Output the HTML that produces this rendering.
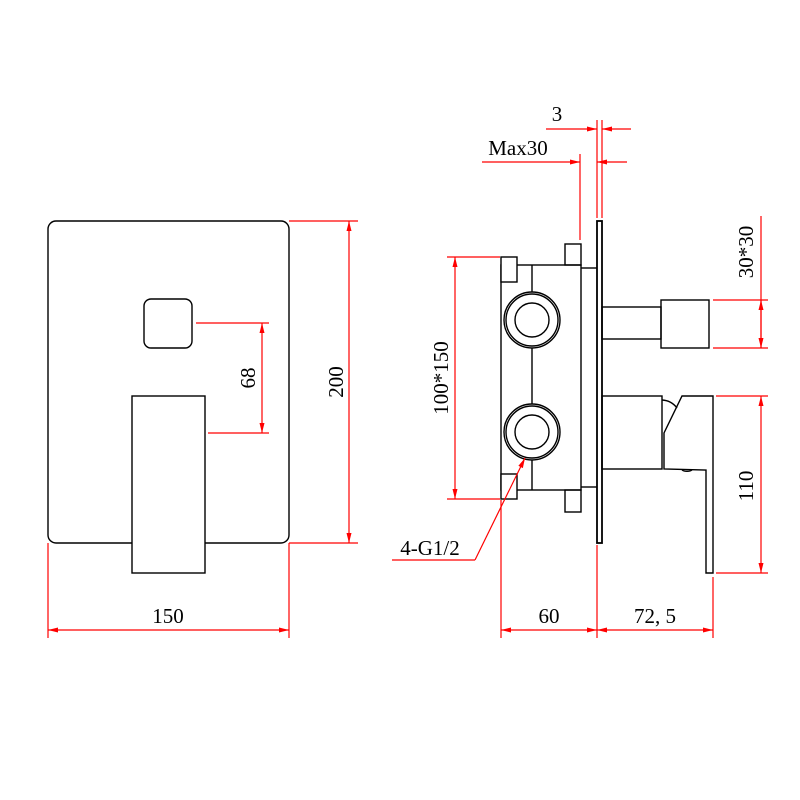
<!DOCTYPE html>
<html><head><meta charset="utf-8"><style>body{margin:0;background:#fff}svg{display:block}</style></head><body>
<svg width="800" height="800" viewBox="0 0 800 800" xmlns="http://www.w3.org/2000/svg">
<defs>
<marker id="a" viewBox="0 0 10 6" refX="10" refY="3" markerWidth="10" markerHeight="6" markerUnits="userSpaceOnUse" orient="auto-start-reverse"><path d="M0,0.5L10,3L0,5.5z" fill="#f00"/></marker>
</defs>
<g fill="none" stroke="#000" stroke-width="1.4">
<rect x="48" y="221" width="241" height="322" rx="8"/>
<rect x="144" y="299" width="48" height="49" rx="7"/>
<rect x="132" y="396" width="73" height="177" fill="#fff"/>
<rect x="501" y="265" width="80" height="225"/>
<line x1="532" y1="265" x2="532" y2="292"/>
<line x1="532" y1="348" x2="532" y2="404"/>
<line x1="532" y1="460" x2="532" y2="490"/>
<rect x="501" y="257" width="16" height="25" fill="#fff"/>
<rect x="501" y="474" width="16" height="25" fill="#fff"/>
<rect x="565" y="244" width="16" height="21"/>
<rect x="565" y="490" width="16" height="22"/>
<circle cx="532" cy="320" r="28"/><circle cx="532" cy="320" r="26"/><circle cx="532" cy="320" r="17"/>
<circle cx="532" cy="432" r="28"/><circle cx="532" cy="432" r="26"/><circle cx="532" cy="432" r="17"/>
<line x1="581" y1="268" x2="597" y2="268"/>
<line x1="581" y1="487" x2="597" y2="487"/>
<rect x="597" y="221" width="5" height="322" stroke-width="1.8"/>
<rect x="602" y="307" width="59" height="32"/>
<rect x="661" y="300" width="48" height="48"/>
<rect x="602" y="396" width="60" height="73"/>
<path d="M662,400 A20,20 0 0 1 677,408"/>
<path d="M682,396 L713,396 L713,573 L706,573 L706,470 L664,469 L664,433 Z"/>
<path d="M682,470 A6,3 0 0 0 692,470"/>
</g>
<g stroke="#f00" stroke-width="1.2" fill="none">
<line x1="196" y1="323" x2="269" y2="323"/><line x1="208" y1="433" x2="269" y2="433"/>
<line x1="262" y1="323" x2="262" y2="433" marker-start="url(#a)" marker-end="url(#a)"/>
<line x1="289" y1="221" x2="358" y2="221"/><line x1="289" y1="543" x2="358" y2="543"/>
<line x1="349" y1="221" x2="349" y2="543" marker-start="url(#a)" marker-end="url(#a)"/>
<line x1="48" y1="543" x2="48" y2="638"/><line x1="289" y1="543" x2="289" y2="638"/>
<line x1="48" y1="630" x2="289" y2="630" marker-start="url(#a)" marker-end="url(#a)"/>
<line x1="597" y1="120" x2="597" y2="218"/><line x1="602" y1="120" x2="602" y2="218"/>
<line x1="546" y1="129" x2="597" y2="129" marker-end="url(#a)"/>
<line x1="631" y1="129" x2="602" y2="129" marker-end="url(#a)"/>
<line x1="580" y1="154" x2="580" y2="240"/>
<line x1="482" y1="162" x2="580" y2="162" marker-end="url(#a)"/>
<line x1="627" y1="162" x2="597" y2="162" marker-end="url(#a)"/>
<line x1="713" y1="300" x2="768" y2="300"/><line x1="713" y1="348" x2="768" y2="348"/>
<line x1="761" y1="216" x2="761" y2="348"/>
<line x1="761" y1="300" x2="761" y2="348" marker-start="url(#a)" marker-end="url(#a)"/>
<line x1="716" y1="396" x2="768" y2="396"/><line x1="716" y1="573" x2="768" y2="573"/>
<line x1="761" y1="396" x2="761" y2="573" marker-start="url(#a)" marker-end="url(#a)"/>
<line x1="447" y1="257" x2="500" y2="257"/><line x1="447" y1="499" x2="500" y2="499"/>
<line x1="455" y1="257" x2="455" y2="499" marker-start="url(#a)" marker-end="url(#a)"/>
<line x1="501" y1="500" x2="501" y2="638"/><line x1="597" y1="545" x2="597" y2="638"/><line x1="713" y1="577" x2="713" y2="638"/>
<line x1="501" y1="630" x2="597" y2="630" marker-start="url(#a)" marker-end="url(#a)"/>
<line x1="597" y1="630" x2="713" y2="630" marker-start="url(#a)" marker-end="url(#a)"/>
<line x1="392" y1="560" x2="475" y2="560"/>
<line x1="475" y1="560" x2="525" y2="458" marker-end="url(#a)"/>
</g>
<g font-family="Liberation Serif, serif" font-size="21" fill="#000" text-anchor="middle">
<text x="168" y="623">150</text>
<text x="549" y="623">60</text>
<text x="655" y="623">72, 5</text>
<text x="557" y="121">3</text>
<text x="518" y="155">Max30</text>
<text x="430" y="555">4-G1/2</text>
<text transform="translate(255,378) rotate(-90)">68</text>
<text transform="translate(343,382) rotate(-90)">200</text>
<text transform="translate(448,378) rotate(-90)">100*150</text>
<text transform="translate(753,252) rotate(-90)">30*30</text>
<text transform="translate(753,486) rotate(-90)">110</text>
</g>
</svg>
</body></html>
